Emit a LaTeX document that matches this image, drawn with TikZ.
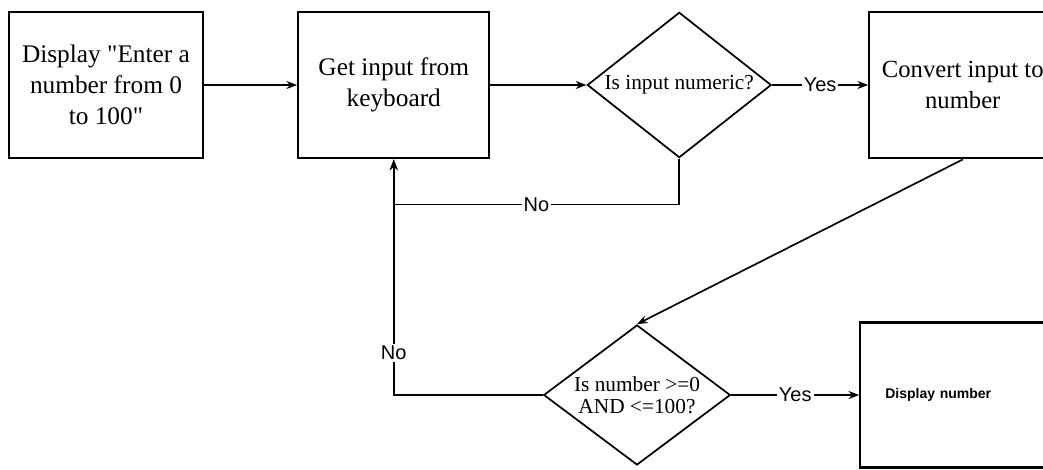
\documentclass[tikz,border=0pt]{standalone}
\usepackage{fontspec}
\setmainfont{Liberation Serif}
\setsansfont{Liberation Sans}
\usetikzlibrary{positioning, arrows.meta, shapes.geometric}

\begin{document}
\begin{tikzpicture}[
    x=0.75pt, y=-0.75pt,
    font=\fontsize{19}{23}\selectfont,
    proc/.style={draw, line width=1.7pt, align=center, minimum height=110pt,
                 inner sep=2pt, fill=white},
    decision/.style={draw, diamond, line width=1.3pt, align=center, inner sep=0pt,
                     font=\fontsize{16}{16.5}\selectfont},
    arr/.style={-{Stealth[length=8pt, width=6pt]}, line width=1.25pt},
    lbl/.style={fill=white, inner sep=1.5pt, font=\sffamily\fontsize{15}{15}\selectfont},
  ]
    \useasboundingbox (0,0) rectangle (1043,470);
    \clip (0,0) rectangle (1043,470);
    % top row
    \node[proc, minimum width=145.5pt] (prompt) at (106,85) {Display \textquotedbl Enter a\\number from 0\\to 100\textquotedbl};
    \node[proc, minimum width=143.25pt, right=69.75pt of prompt] (read) {Get input from\\keyboard};
    \node[decision, minimum width=138pt, minimum height=109pt, aspect=1.27, right=72pt of read] (isnum) {Is input numeric?};
    \node[proc, minimum width=140.25pt, font=\fontsize{18.5}{23}\selectfont, right=72pt of isnum] (conv) {Convert input to\\number};
    % bottom row
    \node[decision, minimum width=140pt, minimum height=105pt, aspect=1.336] (inrange) at (637,395) {Is number >=0\\AND <=100?};
    \node[proc, minimum height=108.75pt, text width=106.5pt, inner xsep=18.75pt, align=left,
          font=\sffamily\bfseries\fontsize{10.5}{12}\selectfont, right=96pt of inrange] (show) {Display number};
    % connectors
    \draw[arr] (prompt) -- (read);
    \draw[arr] (read) -- (isnum);
    \draw[arr] (isnum) -- node[lbl]{Yes} (conv);
    \draw[arr] (isnum.south) -- ++(0,46) -| node[lbl, pos=0.25]{No} (read.south);
    \draw[arr] (conv.south) -- (inrange.north);
    \draw[arr] (inrange.west) -| node[lbl, pos=0.59]{No} (read.south);
    \draw[arr] (inrange) -- node[lbl]{Yes} (show);
  \end{tikzpicture}
\end{document}
